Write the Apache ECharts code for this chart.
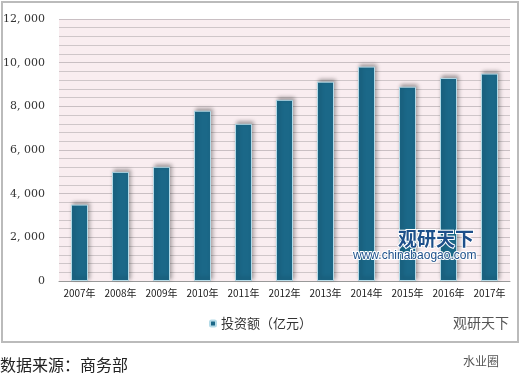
<!DOCTYPE html>
<html><head><meta charset="utf-8">
<script src="https://cdn.jsdelivr.net/npm/echarts@6/dist/echarts.min.js"></script>
<style>html,body{margin:0;padding:0;background:#fff}#c{width:521px;height:383px}</style>
</head><body><div id="c"></div>
<script>
const categories = ['2007年','2008年','2009年','2010年','2011年','2012年','2013年','2014年','2015年','2016年','2017年'];
const investment = [3500, 5000, 5230, 7800, 7200, 8300, 9130, 9820, 8900, 9300, 9500];
const seriesName = '投资额（亿元）';
const chart = echarts.init(document.getElementById('c'));
chart.setOption({
  backgroundColor: '#fff',
  animation: false,
  grid: { left: 54, right: 11, top: 19, bottom: 102, show: true, backgroundColor: '#f9edf0', borderWidth: 0 },
  legend: {
    data: [seriesName], bottom: 48, left: 'center',
    itemWidth: 6, itemHeight: 6, itemGap: 4,
    textStyle: { fontSize: 13, color: '#333', fontFamily: 'Noto Sans CJK SC' }
  },
  xAxis: {
    type: 'category', data: categories,
    axisLine: { show: true, lineStyle: { color: '#999' } },
    axisTick: { show: false },
    axisLabel: { interval: 0, fontSize: 10, color: '#222', margin: 7, fontFamily: 'Noto Sans CJK SC' }
  },
  yAxis: {
    type: 'value', min: 0, max: 12000, interval: 2000,
    axisLine: { show: false }, axisTick: { show: false },
    axisLabel: { fontSize: 11, color: '#333', margin: 14, fontFamily: 'DejaVu Serif',
      formatter: v => v.toLocaleString('en-US').replace(',', ', ') },
    splitLine: { lineStyle: { color: '#c9bfc3', width: 1 } },
    minorTick: { show: false, splitNumber: 5 },
    minorSplitLine: { show: true, lineStyle: { color: '#cfc6c9', width: 1 } }
  },
  series: [{
    name: seriesName, type: 'bar', data: investment, barWidth: 17,
    itemStyle: { color: '#1b6888', borderColor: '#b5dbe8', borderWidth: 1,
      shadowColor: 'rgba(0,0,0,0.35)', shadowBlur: 4, shadowOffsetX: 2, shadowOffsetY: -2 }
  }],
  graphic: [
    { type: 'rect', shape: { x: 2, y: 2, width: 516, height: 340 }, style: { fill: 'none', stroke: '#bbb', lineWidth: 2 }, z: 100 },
    { type: 'text', left: 0, top: 357, style: { text: '数据来源：商务部', fontSize: 16, fill: '#222', fontFamily: 'Noto Sans CJK SC' } },
    { type: 'text', left: 453, top: 316, style: { text: '观研天下', fontSize: 14, fill: '#555', fontFamily: 'Noto Sans CJK SC' } },
    { type: 'text', left: 463, top: 355, style: { text: '水业圈', fontSize: 12, fill: '#555', fontFamily: 'Noto Sans CJK SC' } },
    { type: 'text', left: 397, top: 228, z: 100, style: { text: '观研天下', fontSize: 19, fontWeight: 'bold', fill: '#1d4f8a', stroke: '#fff', lineWidth: 2, fontFamily: 'Noto Sans CJK SC' } },
    { type: 'text', left: 352, top: 249, z: 100, style: { text: 'www.chinabaogao.com', fontSize: 12, fill: '#1d4f8a', stroke: '#fff', lineWidth: 2, fontFamily: 'Liberation Sans' } }
  ]
});
</script></body></html>
